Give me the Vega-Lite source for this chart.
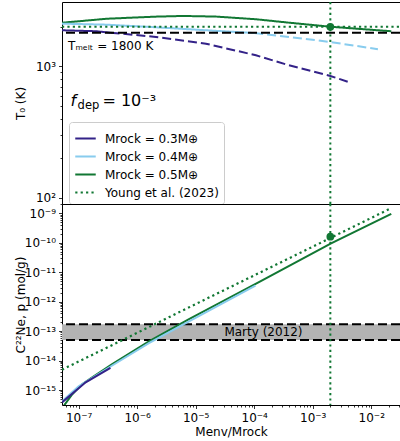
{
  "$schema": "https://vega.github.io/schema/vega-lite/v6.json",
  "padding": {"left": 13, "top": 0, "right": 1, "bottom": 0},
  "spacing": 0,
  "bounds": "flush",
  "config": {
    "font": "DejaVu Sans",
    "view": {"stroke": "#000", "strokeWidth": 1},
    "axis": {"grid": false, "domain": false, "tickColor": "#000", "tickWidth": 0.8, "labelFontSize": 12, "labelColor": "#000", "titleFontSize": 12, "titleFontWeight": "normal", "titleColor": "#000", "labelOverlap": false, "labelFlush": false, "labelPadding": 3},
    "legend": {"labelFontSize": 12, "labelColor": "#000", "symbolStrokeWidth": 2, "symbolType": "stroke", "symbolSize": 420, "fillColor": "#fff", "strokeColor": "#cccccc", "cornerRadius": 3, "padding": 5, "rowPadding": -1, "labelOffset": 8}
  },
  "datasets": {
    "top": [
      {"s": "0.5", "seg": "solid", "x": 5.2e-8, "y": 2150},
      {"s": "0.5", "seg": "solid", "x": 1e-7, "y": 2205},
      {"s": "0.5", "seg": "solid", "x": 3e-7, "y": 2305},
      {"s": "0.5", "seg": "solid", "x": 2e-6, "y": 2390},
      {"s": "0.5", "seg": "solid", "x": 6e-6, "y": 2420},
      {"s": "0.5", "seg": "solid", "x": 2.2e-5, "y": 2395},
      {"s": "0.5", "seg": "solid", "x": 1.07e-4, "y": 2285},
      {"s": "0.5", "seg": "solid", "x": 4e-4, "y": 2150},
      {"s": "0.5", "seg": "solid", "x": 2e-3, "y": 2005},
      {"s": "0.5", "seg": "solid", "x": 5.5e-3, "y": 1938},
      {"s": "0.5", "seg": "solid", "x": 2.2e-2, "y": 1852},
      {"s": "0.4", "seg": "solid", "x": 5.2e-8, "y": 2115},
      {"s": "0.4", "seg": "solid", "x": 3e-7, "y": 2078},
      {"s": "0.4", "seg": "solid", "x": 2e-6, "y": 1987},
      {"s": "0.4", "seg": "solid", "x": 1.5e-5, "y": 1884},
      {"s": "0.4", "seg": "solid", "x": 1e-4, "y": 1795},
      {"s": "0.4", "seg": "dash", "x": 1e-4, "y": 1795},
      {"s": "0.4", "seg": "dash", "x": 4e-4, "y": 1675},
      {"s": "0.4", "seg": "dash", "x": 2e-3, "y": 1535},
      {"s": "0.4", "seg": "dash", "x": 1.3e-2, "y": 1351},
      {"s": "0.3", "seg": "solid", "x": 5.2e-8, "y": 1884},
      {"s": "0.3", "seg": "solid", "x": 2e-7, "y": 1852},
      {"s": "0.3", "seg": "solid", "x": 3.5e-7, "y": 1805},
      {"s": "0.3", "seg": "dash", "x": 3.5e-7, "y": 1805},
      {"s": "0.3", "seg": "dash", "x": 5.6e-7, "y": 1775},
      {"s": "0.3", "seg": "dash", "x": 2.1e-6, "y": 1675},
      {"s": "0.3", "seg": "dash", "x": 1.5e-5, "y": 1489},
      {"s": "0.3", "seg": "dash", "x": 1.07e-4, "y": 1216},
      {"s": "0.3", "seg": "dash", "x": 3.9e-4, "y": 1021},
      {"s": "0.3", "seg": "dash", "x": 2e-3, "y": 847},
      {"s": "0.3", "seg": "dash", "x": 4.5e-3, "y": 750},
      {"s": "Young", "seg": "solid", "x": 5.2e-8, "y": 2000},
      {"s": "Young", "seg": "solid", "x": 3.1e-2, "y": 2000}
    ],
    "bottom": [
      {"s": "0.5", "x": 5.2e-8, "y": 2.4e-16},
      {"s": "0.5", "x": 7.8e-8, "y": 7.2e-16},
      {"s": "0.5", "x": 1.15e-7, "y": 1.58e-15},
      {"s": "0.5", "x": 1.71e-7, "y": 2.7e-15},
      {"s": "0.5", "x": 3.75e-7, "y": 7.6e-15},
      {"s": "0.5", "x": 1.59e-6, "y": 4.5e-14},
      {"s": "0.5", "x": 5.2e-6, "y": 1.66e-13},
      {"s": "0.5", "x": 7.7e-6, "y": 2.57e-13},
      {"s": "0.5", "x": 1.32e-4, "y": 5.1e-12},
      {"s": "0.5", "x": 2.06e-3, "y": 9.5e-11},
      {"s": "0.5", "x": 2.2e-2, "y": 9.6e-10},
      {"s": "0.4", "x": 5.2e-8, "y": 4.1e-16},
      {"s": "0.4", "x": 1e-7, "y": 1.35e-15},
      {"s": "0.4", "x": 3.75e-7, "y": 6.8e-15},
      {"s": "0.4", "x": 1.59e-6, "y": 3.9e-14},
      {"s": "0.4", "x": 7.7e-6, "y": 2.14e-13},
      {"s": "0.4", "x": 1.05e-4, "y": 3.5e-12},
      {"s": "0.3", "x": 5.2e-8, "y": 3.8e-16},
      {"s": "0.3", "x": 1.32e-7, "y": 1.82e-15},
      {"s": "0.3", "x": 3.5e-7, "y": 5.6e-15},
      {"s": "Young", "x": 5.2e-8, "y": 4.9e-15},
      {"s": "Young", "x": 2.2e-2, "y": 1.5e-9}
    ]
  },
  "resolve": {"scale": {"color": "independent", "strokeDash": "independent"}},
  "vconcat": [
    {
      "width": 338,
      "height": 202,
      "layer": [
        {
          "data": {"name": "top"},
          "transform": [{"filter": "datum.seg == 'solid'"}],
          "mark": {"type": "line", "strokeWidth": 2, "clip": true},
          "encoding": {
            "x": {"field": "x", "type": "quantitative", "scale": {"type": "log", "domain": [5.2e-8, 3.1e-2], "nice": false}, "axis": null},
            "y": {"field": "y", "type": "quantitative", "scale": {"type": "log", "domain": [90, 3090], "nice": false},
              "axis": {"title": "T₀ (K)", "titleX": -35, "values": [100, 200, 300, 400, 500, 600, 700, 800, 900, 1000, 2000],
                "labelExpr": "datum.value == 100 ? '10²' : datum.value == 1000 ? '10³' : ''",
                "tickSize": {"condition": {"test": "datum.value == 100 || datum.value == 1000", "value": 3.5}, "value": 2}}},
            "color": {"field": "s", "type": "nominal", "scale": {"domain": ["0.3", "0.4", "0.5", "Young"], "range": ["#332288", "#88CCEE", "#117733", "#117733"]},
              "legend": {"title": null, "orient": "none", "legendX": 7, "legendY": 120, "labelExpr": "datum.label == 'Young' ? 'Young et al. (2023)' : 'Mrock = ' + datum.label + 'M⊕'"}},
            "strokeDash": {"field": "s", "type": "nominal", "scale": {"domain": ["0.3", "0.4", "0.5", "Young"], "range": [[1, 0], [1, 0], [1, 0], [2.2, 3.2]]},
              "legend": {"title": null, "orient": "none", "legendX": 7, "legendY": 120, "labelExpr": "datum.label == 'Young' ? 'Young et al. (2023)' : 'Mrock = ' + datum.label + 'M⊕'"}}
          }
        },
        {
          "data": {"name": "top"},
          "transform": [{"filter": "datum.seg == 'dash'"}],
          "mark": {"type": "line", "strokeWidth": 2, "strokeDash": [9, 4], "clip": true},
          "encoding": {
            "x": {"field": "x", "type": "quantitative"},
            "y": {"field": "y", "type": "quantitative"},
            "color": {"field": "s", "type": "nominal"}
          }
        },
        {
          "data": {"values": [{"T": 1800}]},
          "mark": {"type": "rule", "color": "#000", "strokeWidth": 2, "strokeDash": [9, 4]},
          "encoding": {"y": {"field": "T", "type": "quantitative"}}
        },
        {
          "data": {"values": [{"x": 0.002}]},
          "mark": {"type": "rule", "color": "#117733", "strokeWidth": 2, "strokeDash": [2.2, 3.2]},
          "encoding": {"x": {"field": "x", "type": "quantitative"}}
        },
        {
          "data": {"values": [{"x": 0.002, "y": 2000}]},
          "mark": {"type": "point", "filled": true, "opacity": 1, "size": 60, "color": "#117733"},
          "encoding": {"x": {"field": "x", "type": "quantitative"}, "y": {"field": "y", "type": "quantitative"}}
        },
        {
          "data": {"values": [{"x": 6.6e-8, "y": 1328, "t": "Tₘₑₗₜ = 1800 K"}]},
          "mark": {"type": "text", "align": "left", "baseline": "alphabetic", "fontSize": 12, "color": "#000"},
          "encoding": {"x": {"field": "x", "type": "quantitative"}, "y": {"field": "y", "type": "quantitative"}, "text": {"field": "t"}}
        },
        {
          "data": {"values": [{"x": 7.3e-8, "y": 500, "t": "f"}]},
          "mark": {"type": "text", "align": "left", "baseline": "alphabetic", "fontSize": 16, "fontStyle": "italic", "color": "#000"},
          "encoding": {"x": {"field": "x", "type": "quantitative"}, "y": {"field": "y", "type": "quantitative"}, "text": {"field": "t"}}
        },
        {
          "data": {"values": [{"x": 9.6e-8, "y": 475, "t": "dep"}]},
          "mark": {"type": "text", "align": "left", "baseline": "alphabetic", "fontSize": 11.5, "color": "#000"},
          "encoding": {"x": {"field": "x", "type": "quantitative"}, "y": {"field": "y", "type": "quantitative"}, "text": {"field": "t"}}
        },
        {
          "data": {"values": [{"x": 2.55e-7, "y": 500, "t": "= 10⁻³"}]},
          "mark": {"type": "text", "align": "left", "baseline": "alphabetic", "fontSize": 16, "color": "#000"},
          "encoding": {"x": {"field": "x", "type": "quantitative"}, "y": {"field": "y", "type": "quantitative"}, "text": {"field": "t"}}
        }
      ]
    },
    {
      "width": 338,
      "height": 201,
      "layer": [
        {
          "data": {"values": [{"lo": 5e-14, "hi": 1.7e-13}]},
          "mark": {"type": "rect", "color": "#b3b3b3"},
          "encoding": {
            "x": {"datum": 5.2e-8, "type": "quantitative", "scale": {"type": "log", "domain": [5.2e-8, 3.1e-2], "nice": false},
              "axis": {"title": "Menv/Mrock", "titlePadding": 3, "labelPadding": 4,
                "values": [6e-8, 7e-8, 8e-8, 9e-8, 1e-7, 2e-7, 3e-7, 4e-7, 5e-7, 6e-7, 7e-7, 8e-7, 9e-7, 1e-6, 2e-6, 3e-6, 4e-6, 5e-6, 6e-6, 7e-6, 8e-6, 9e-6, 1e-5, 2e-5, 3e-5, 4e-5, 5e-5, 6e-5, 7e-5, 8e-5, 9e-5, 1e-4, 2e-4, 3e-4, 4e-4, 5e-4, 6e-4, 7e-4, 8e-4, 9e-4, 1e-3, 2e-3, 3e-3, 4e-3, 5e-3, 6e-3, 7e-3, 8e-3, 9e-3, 1e-2, 2e-2, 3e-2],
                "labelExpr": "abs(log(datum.value)/LN10 - round(log(datum.value)/LN10)) < 0.01 ? ['10⁻⁷','10⁻⁶','10⁻⁵','10⁻⁴','10⁻³','10⁻²'][round(log(datum.value)/LN10)+7] : ''",
                "tickSize": {"condition": {"test": "abs(log(datum.value)/LN10 - round(log(datum.value)/LN10)) < 0.01", "value": 3.5}, "value": 2}}},
            "x2": {"datum": 3.1e-2},
            "y": {"field": "lo", "type": "quantitative", "scale": {"type": "log", "domain": [3.1e-16, 2.07e-9], "nice": false},
              "axis": {"title": "C²²Ne, p (mol/g)", "titleX": -35,
                "values": [4e-16, 5e-16, 6e-16, 7e-16, 8e-16, 9e-16, 1e-15, 2e-15, 3e-15, 4e-15, 5e-15, 6e-15, 7e-15, 8e-15, 9e-15, 1e-14, 2e-14, 3e-14, 4e-14, 5e-14, 6e-14, 7e-14, 8e-14, 9e-14, 1e-13, 2e-13, 3e-13, 4e-13, 5e-13, 6e-13, 7e-13, 8e-13, 9e-13, 1e-12, 2e-12, 3e-12, 4e-12, 5e-12, 6e-12, 7e-12, 8e-12, 9e-12, 1e-11, 2e-11, 3e-11, 4e-11, 5e-11, 6e-11, 7e-11, 8e-11, 9e-11, 1e-10, 2e-10, 3e-10, 4e-10, 5e-10, 6e-10, 7e-10, 8e-10, 9e-10, 1e-9, 2e-9],
                "labelExpr": "abs(log(datum.value)/LN10 - round(log(datum.value)/LN10)) < 0.01 ? ['10⁻¹⁵','10⁻¹⁴','10⁻¹³','10⁻¹²','10⁻¹¹','10⁻¹⁰','10⁻⁹'][round(log(datum.value)/LN10)+15] : ''",
                "tickSize": {"condition": {"test": "abs(log(datum.value)/LN10 - round(log(datum.value)/LN10)) < 0.01", "value": 3.5}, "value": 2}}},
            "y2": {"field": "hi"}
          }
        },
        {
          "data": {"values": [{"v": 5e-14}, {"v": 1.7e-13}]},
          "mark": {"type": "rule", "color": "#000", "strokeWidth": 2, "strokeDash": [9, 4]},
          "encoding": {"y": {"field": "v", "type": "quantitative"}}
        },
        {
          "data": {"name": "bottom"},
          "transform": [{"filter": "datum.s != 'Young'"}],
          "mark": {"type": "line", "strokeWidth": 2, "clip": true},
          "encoding": {
            "x": {"field": "x", "type": "quantitative"},
            "y": {"field": "y", "type": "quantitative"},
            "color": {"field": "s", "type": "nominal", "scale": {"domain": ["0.3", "0.4", "0.5", "Young"], "range": ["#332288", "#88CCEE", "#117733", "#117733"]}, "legend": null}
          }
        },
        {
          "data": {"name": "bottom"},
          "transform": [{"filter": "datum.s == 'Young'"}],
          "mark": {"type": "line", "strokeWidth": 2.2, "strokeDash": [2.2, 3.2], "color": "#117733", "clip": true},
          "encoding": {
            "x": {"field": "x", "type": "quantitative"},
            "y": {"field": "y", "type": "quantitative"}
          }
        },
        {
          "data": {"values": [{"x": 0.002}]},
          "mark": {"type": "rule", "color": "#117733", "strokeWidth": 2, "strokeDash": [2.2, 3.2]},
          "encoding": {"x": {"field": "x", "type": "quantitative"}}
        },
        {
          "data": {"values": [{"x": 0.002, "y": 1.6e-10}]},
          "mark": {"type": "point", "filled": true, "opacity": 1, "size": 60, "color": "#117733"},
          "encoding": {"x": {"field": "x", "type": "quantitative"}, "y": {"field": "y", "type": "quantitative"}}
        },
        {
          "data": {"values": [{"x": 1.44e-4, "y": 9.5e-14, "t": "Marty (2012)"}]},
          "mark": {"type": "text", "align": "center", "baseline": "middle", "fontSize": 12, "color": "#000"},
          "encoding": {"x": {"field": "x", "type": "quantitative"}, "y": {"field": "y", "type": "quantitative"}, "text": {"field": "t"}}
        }
      ]
    }
  ]
}
